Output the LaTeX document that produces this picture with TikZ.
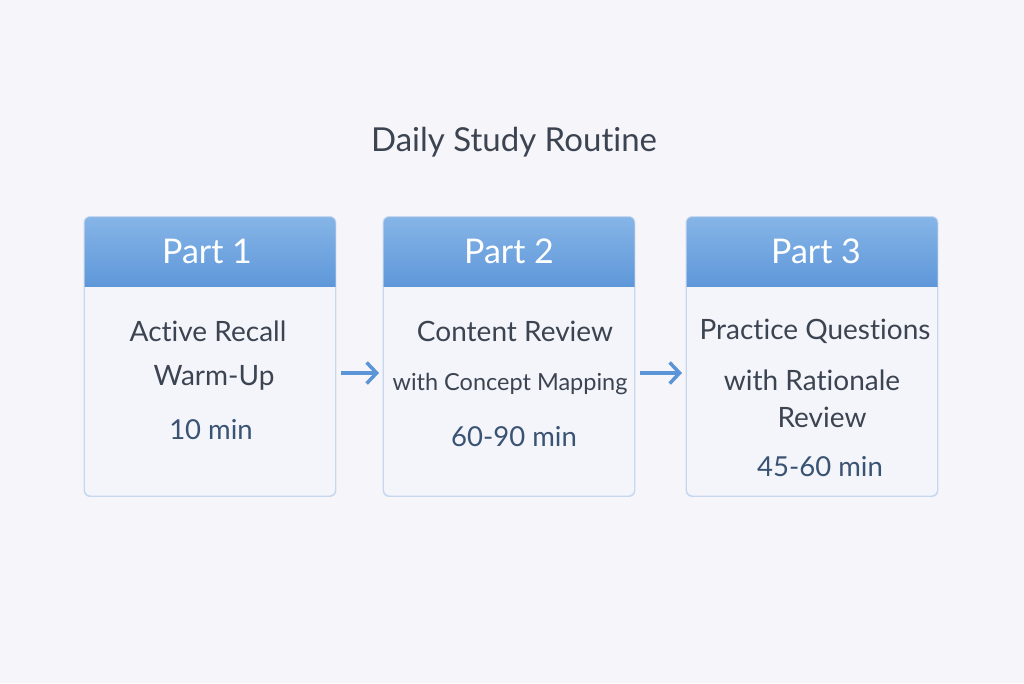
\documentclass[tikz,border=0pt]{standalone}
\usepackage{fontspec}
\setmainfont{Lato}[Ligatures=NoCommon]
\usetikzlibrary{arrows.meta}
\definecolor{bgc}{HTML}{F6F6FA}
\definecolor{bodyc}{HTML}{F3F5FA}
\definecolor{edgec}{HTML}{C6D7EF}
\definecolor{headtop}{HTML}{86B5E7}
\definecolor{headbot}{HTML}{5E97D9}
\definecolor{txtc}{HTML}{3C4452}
\definecolor{minc}{HTML}{3A5373}
\definecolor{arrc}{HTML}{5B95D8}
\begin{document}
\begin{tikzpicture}[x=1pt,y=-1pt,
	card/.style={draw=edgec,line width=0.9pt,fill=bodyc,rounded corners=6pt,minimum width=251pt,minimum height=279pt,inner sep=0pt},
	head/.style={text=white,font=\fontsize{34}{40}\selectfont},
	line/.style={text=txtc,font=\fontsize{28}{32}\selectfont},
	small/.style={text=txtc,font=\fontsize{23.5}{27}\selectfont},
	mins/.style={text=minc,font=\fontsize{27.5}{32}\selectfont},
	flow/.style={draw=arrc,line width=3.5pt,-{Straight Barb[length=10pt,width=21pt,line width=3.5pt]},shorten <=5pt,shorten >=4pt}]
		\fill [bgc] (0,0) rectangle (1024,683);
		\useasboundingbox (0,0) rectangle (1024,683);
		\node (title) at (514,142) {\fontsize{33}{38}\selectfont\color{txtc}Daily Study Routine};
		\node [card] (c1) at (210,356.5) {};
		\node [card] (c2) at (509,356.5) {};
		\node [card] (c3) at (812,356.5) {};
		\foreach \c in {c1,c2,c3} {
			\begin{scope}
			\clip [rounded corners=6pt] (\c.north west) rectangle (\c.south east);
			\shade [top color=headtop,bottom color=headbot] (\c.north west) rectangle ([yshift=-70pt]\c.north east);
			\end{scope}
			\draw [edgec,line width=0.9pt,rounded corners=6pt] (\c.north west) rectangle (\c.south east);
		}
		\node [head] (h1) at (207,251) {Part 1};
		\node [head] (h2) at (509,251) {Part 2};
		\node [head] (h3) at (816,251) {Part 3};
		\node [line] (a1) at (208,331) {Active Recall};
		\node [line] (a2) at (214,378) {Warm-Up};
		\node [mins] (a3) at (211,430) {10 min};
		\node [line] (b1) at (515,331) {Content Review};
		\node [small] (b2) at (510,384) {with Concept Mapping};
		\node [mins] (b3) at (514,437) {60-90 min};
		\node [line] (d1) at (815,331) {Practice Questions};
		\node [line] (d2) at (812,380) {with Rationale};
		\node [line] (d3) at (822,417) {Review};
		\node [mins] (d4) at (820,467) {45-60 min};
		\draw [flow] ([yshift=-16.5pt]c1.east) -- ([yshift=-16.5pt]c2.west);
		\draw [flow] ([yshift=-16.5pt]c2.east) -- ([yshift=-16.5pt]c3.west);
\end{tikzpicture}
\end{document}
